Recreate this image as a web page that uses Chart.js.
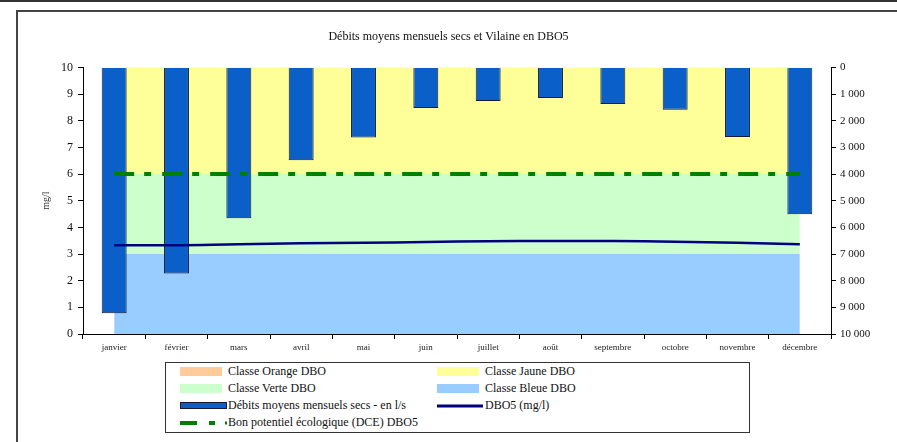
<!DOCTYPE html>
<html lang="fr">
<head>
<meta charset="utf-8">
<title>Débits moyens mensuels secs et Vilaine en DBO5</title>
<script src="https://cdn.jsdelivr.net/npm/chart.js@4.4.1/dist/chart.umd.min.js"></script>
<style>
  html,body{margin:0;padding:0;background:#fff;overflow:hidden;}
  body{width:897px;height:442px;position:relative;font-family:"Liberation Serif","Times New Roman",serif;}
  .trait{position:absolute;background:#444;}
  #chart{position:absolute;left:0;top:0;}
  #legende{position:absolute;left:165px;top:362px;width:585px;height:71px;border:1px solid #333;box-sizing:border-box;background:#fff;}
  .item{position:absolute;height:17px;line-height:17px;font-size:12px;color:#111;white-space:nowrap;}
  .item svg{position:absolute;left:0;top:4px;}
  .item span{position:absolute;left:48px;top:0;}
</style>
</head>
<body>
<div class="trait" style="left:0;top:0;width:897px;height:2px;background:#333"></div>
<div class="trait" style="left:16px;top:10px;width:881px;height:2px"></div>
<div class="trait" style="left:16px;top:10px;width:2px;height:432px"></div>
<canvas id="chart" width="897" height="442"></canvas>
<div id="legende"></div>
<script>
const mois=['janvier','février','mars','avril','mai','juin','juillet','août','septembre','octobre','novembre','décembre'];
// débits moyens mensuels secs, l/s (axe de droite, inversé)
const debits=[9220,7730,5660,3480,2630,1520,1260,1150,1370,1590,2610,5510];
// DBO5 en mg/l
const dbo5=[3.33,3.33,3.37,3.40,3.42,3.45,3.48,3.49,3.49,3.46,3.42,3.37];
// seuil bon potentiel écologique (DCE)
const seuilDCE=[6,6,6,6,6,6,6,6,6,6,6,6];
// bornes supérieures des classes DBO (mg/l)
const classeBleue=[3,3,3,3,3,3,3,3,3,3,3,3];
const classeVerte=[6,6,6,6,6,6,6,6,6,6,6,6];
const classeJaune=[10,10,10,10,10,10,10,10,10,10,10,10];
const classeOrange=[25,25,25,25,25,25,25,25,25,25,25,25];

const SERIF='"Liberation Serif","Times New Roman",serif';
const sepMilliers=v=>String(v).replace(/\B(?=(\d{3})+(?!\d))/g,' ');

function classe(label,data,color,fill){
  return {type:'line',label,data,yAxisID:'y',backgroundColor:color,borderColor:color,
    borderWidth:0,pointRadius:0,fill,order:3,tension:0};
}

const datasets=[
  classe('Classe Bleue DBO',classeBleue,'#99ccff','origin'),
  classe('Classe Verte DBO',classeVerte,'#ccffcc',0),
  classe('Classe Jaune DBO',classeJaune,'#ffff99',1),
  classe('Classe Orange DBO',classeOrange,'#ffcc99',2),
  {type:'bar',label:'Débits moyens mensuels secs - en l/s',data:debits,yAxisID:'y2',
    backgroundColor:'#0a5fc8',borderColor:'#1a1a33',borderWidth:1,
    categoryPercentage:1,barPercentage:0.4,order:2},
  {type:'line',label:'DBO5 (mg/l)',data:dbo5,yAxisID:'y',borderColor:'#000080',
    borderWidth:2.5,pointRadius:0,fill:false,tension:0.4,order:1},
  {type:'line',label:'Bon potentiel écologique (DCE) DBO5',data:seuilDCE,yAxisID:'y',
    borderColor:'#008000',borderWidth:4,borderDash:[20,10,7,11],pointRadius:0,fill:false,order:0}
];

const chart=new Chart(document.getElementById('chart'),{
  data:{labels:mois,datasets},
  options:{
    responsive:false,animation:false,
    layout:{padding:{left:0,right:0,top:0,bottom:84}},
    plugins:{
      legend:{display:false},
      tooltip:{enabled:false},
      title:{display:true,text:'Débits moyens mensuels secs et Vilaine en DBO5',color:'#111',
        font:{family:SERIF,size:12,weight:'normal',lineHeight:1.2},padding:{top:30,bottom:23}}
    },
    scales:{
      x:{
        grid:{offset:true,drawOnChartArea:false,tickLength:5,color:'#000'},
        border:{color:'#000',width:1},
        ticks:{color:'#222',font:{family:SERIF,size:9},padding:3,maxRotation:0,autoSkip:false},
        afterFit:s=>{s.height=24;}
      },
      y:{
        position:'left',min:0,max:10,
        ticks:{stepSize:1,color:'#111',font:{family:SERIF,size:12},padding:5},
        grid:{drawOnChartArea:false,tickLength:5,color:'#000'},
        border:{color:'#000',width:1},
        title:{display:true,text:'mg/l',color:'#333',font:{family:SERIF,size:10},padding:{top:40}},
        afterFit:s=>{s.width=83;}
      },
      y2:{
        position:'right',min:0,max:10000,reverse:true,
        ticks:{stepSize:1000,color:'#111',font:{family:SERIF,size:11},padding:4,callback:v=>sepMilliers(v)},
        grid:{drawOnChartArea:false,tickLength:5,color:'#000'},
        border:{color:'#000',width:1},
        afterFit:s=>{s.width=66;}
      }
    }
  }
});

// légende : deux colonnes, construite à partir des séries du graphique
const swatch={
  'Classe Orange DBO':'<rect x="0" y="0" width="42" height="9" fill="#ffcc99"/>',
  'Classe Jaune DBO':'<rect x="0" y="0" width="42" height="9" fill="#ffff99"/>',
  'Classe Verte DBO':'<rect x="0" y="0" width="42" height="9" fill="#ccffcc"/>',
  'Classe Bleue DBO':'<rect x="0" y="0" width="42" height="9" fill="#99ccff"/>',
  'Débits moyens mensuels secs - en l/s':'<rect x="0.5" y="1.5" width="46" height="6" fill="#0a5fc8" stroke="#1a1a33"/>',
  'DBO5 (mg/l)':'<line x1="0" y1="5" x2="46" y2="5" stroke="#000080" stroke-width="3"/>',
  'Bon potentiel écologique (DCE) DBO5':'<g fill="#008000"><rect x="0" y="3" width="17" height="4"/><rect x="29" y="3" width="6" height="4"/><rect x="45" y="3.5" width="2" height="3"/></g>'
};
const places=[
  ['Classe Orange DBO',0,0],['Classe Jaune DBO',1,0],
  ['Classe Verte DBO',0,1],['Classe Bleue DBO',1,1],
  ['Débits moyens mensuels secs - en l/s',0,2],['DBO5 (mg/l)',1,2],
  ['Bon potentiel écologique (DCE) DBO5',0,3]
];
const leg=document.getElementById('legende');
places.forEach(([label,col,row])=>{
  if(!chart.data.datasets.some(d=>d.label===label)) return;
  const div=document.createElement('div');
  div.className='item';
  div.style.left=(col?271:14)+'px';
  div.style.top=(row*17)+'px';
  div.innerHTML=`<svg width="48" height="10">${swatch[label]}</svg><span>${label}</span>`;
  leg.appendChild(div);
});
</script>
</body>
</html>
